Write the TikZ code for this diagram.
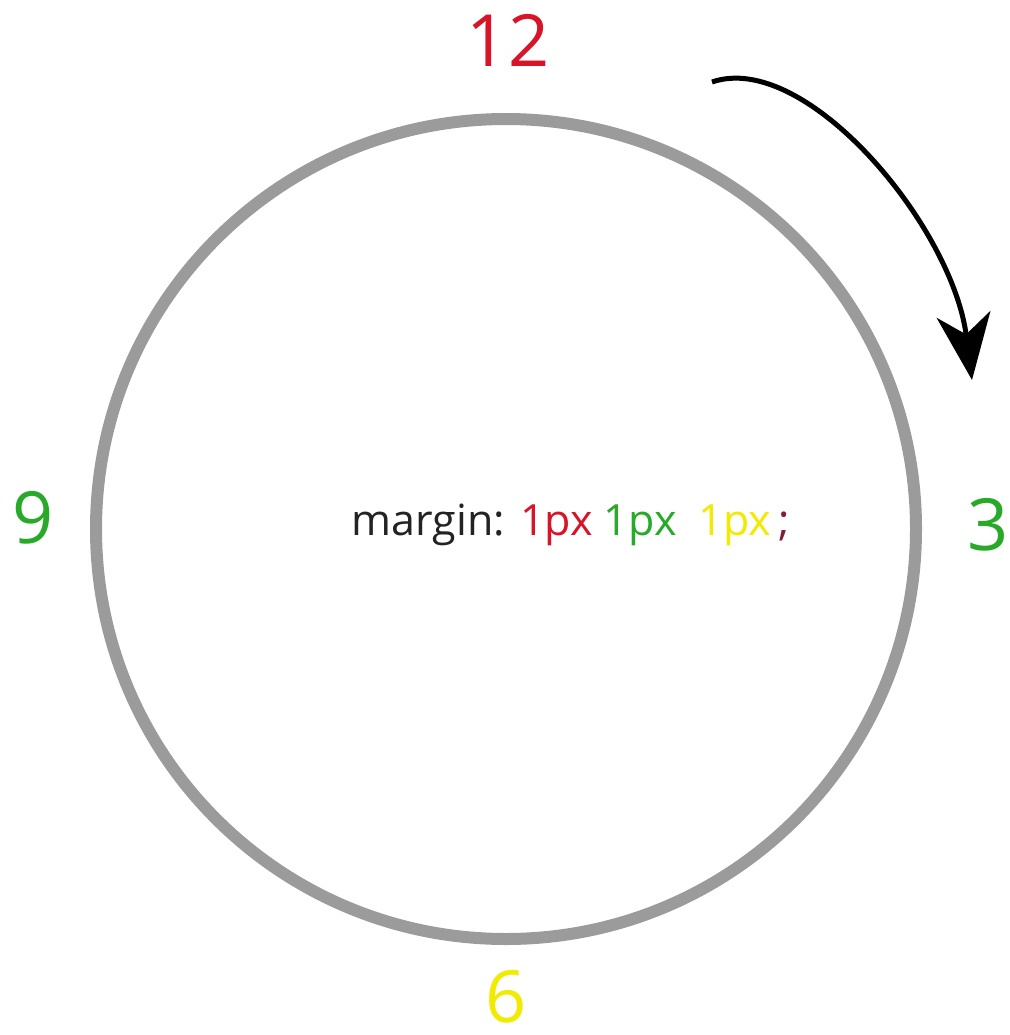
\documentclass[tikz,border=0pt]{standalone}
\usepackage{fontspec}
\setmainfont{Open Sans}
\usetikzlibrary{arrows.meta, positioning}
\definecolor{ringgray}{RGB}{155,155,155}
\definecolor{myred}{RGB}{215,20,40}
\definecolor{mygreen}{RGB}{40,170,40}
\definecolor{myyellow}{RGB}{240,235,0}
\definecolor{mymaroon}{RGB}{130,30,60}
\definecolor{mydark}{RGB}{35,35,35}
\tikzset{
  ring/.style={draw=ringgray, line width=12pt},
  hour/.style={font=\fontsize{72}{80}\selectfont, inner sep=0pt},
  arrow/.style={draw=black, line width=5pt, -{Stealth[length=66pt, width=54pt, inset=20pt]}},
  rule/.style={font=\fontsize{43}{48}\selectfont, inner sep=0pt, text=mydark}
}
\begin{document}
\begin{tikzpicture}[x=1pt, y=-1pt]
  \useasboundingbox (0,0) rectangle (1009,1035);
  \node (c) at (506,529) {};
  \draw [ring] (c.center) circle (410);

  \node [hour, text=myred] (twelve) at (508,40) {12};
  \node [hour, text=mygreen] (three) at (988,525) {3};
  \node [hour, text=myyellow] (six) at (506,997) {6};
  \node [hour, text=mygreen] (nine) at (33,518) {9};

  \node [rule] (txt) at (571,525) {margin: \textcolor{myred}{1px} \textcolor{mygreen}{1px} \ \textcolor{myyellow}{1px}\,\textcolor{mymaroon}{;}};

  \coordinate (arrS) at (712,82);
  \coordinate (arrE) at (972,380);
  \draw [arrow] (arrS) .. controls (805,50) and (952,225) .. (arrE);
\end{tikzpicture}
\end{document}
